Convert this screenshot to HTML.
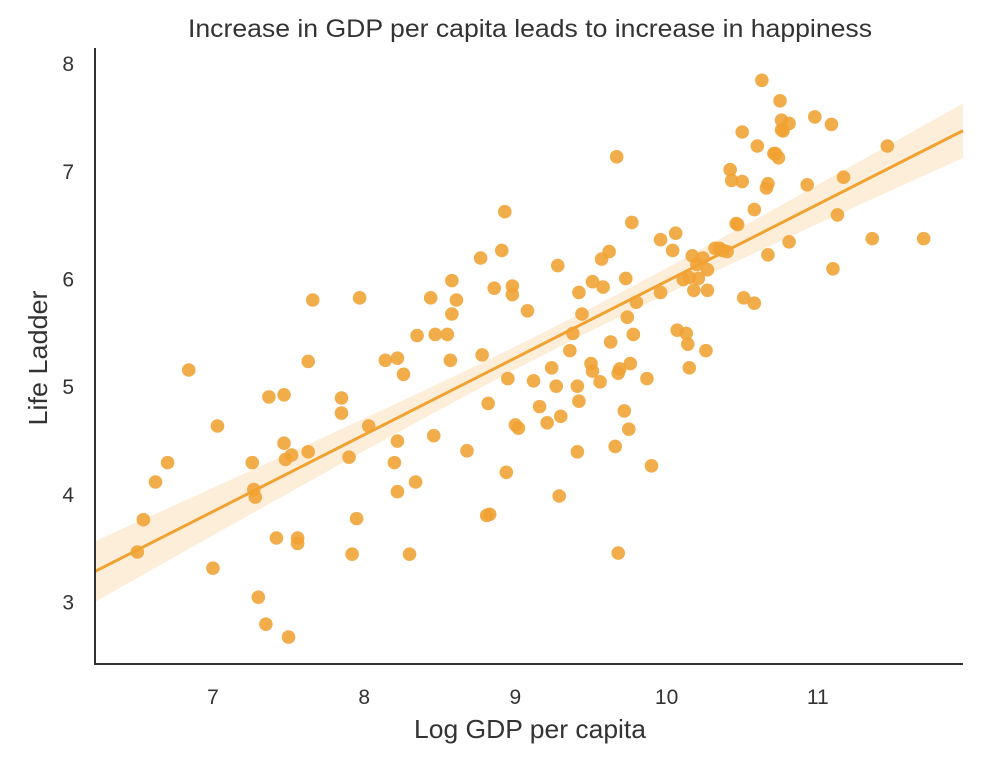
<!DOCTYPE html>
<html><head><meta charset="utf-8"><style>
body{margin:0;background:#fff;}
svg{display:block;font-family:"Liberation Sans",sans-serif;}
</style></head><body>
<svg id="chart" width="1008" height="762"></svg>
<script>
const gdp=[6.50,6.54,6.62,6.70,6.84,7.03,7.00,7.26,7.27,7.28,7.30,7.35,7.37,7.42,7.47,7.47,7.48,7.52,7.50,7.56,7.56,7.63,7.63,7.66,7.85,7.85,7.90,7.92,7.95,7.97,8.03,8.14,8.20,8.22,8.22,8.22,8.26,8.30,8.34,8.35,8.44,8.46,8.47,8.55,8.57,8.58,8.58,8.61,8.68,8.77,8.78,8.81,8.82,8.83,8.86,8.91,8.93,8.94,8.95,8.98,8.98,9.00,9.02,9.08,9.12,9.16,9.21,9.24,9.27,9.28,9.29,9.30,9.36,9.38,9.41,9.41,9.42,9.42,9.44,9.50,9.51,9.51,9.56,9.57,9.58,9.62,9.63,9.66,9.67,9.68,9.68,9.69,9.72,9.73,9.74,9.75,9.76,9.77,9.78,9.80,9.87,9.90,9.96,9.96,10.04,10.06,10.07,10.11,10.13,10.14,10.15,10.15,10.17,10.18,10.20,10.21,10.24,10.26,10.27,10.27,10.32,10.35,10.37,10.40,10.42,10.43,10.46,10.47,10.50,10.50,10.51,10.58,10.58,10.60,10.63,10.66,10.67,10.67,10.71,10.72,10.74,10.75,10.76,10.76,10.77,10.81,10.81,10.93,10.98,11.09,11.10,11.13,11.17,11.36,11.46,11.70];
const ladder=[3.47,3.77,4.12,4.30,5.16,4.64,3.32,4.30,4.05,3.98,3.05,2.80,4.91,3.60,4.93,4.48,4.33,4.37,2.68,3.60,3.55,4.40,5.24,5.81,4.90,4.76,4.35,3.45,3.78,5.83,4.64,5.25,4.30,5.27,4.03,4.50,5.12,3.45,4.12,5.48,5.83,4.55,5.49,5.49,5.25,5.99,5.68,5.81,4.41,6.20,5.30,3.81,4.85,3.82,5.92,6.27,6.63,4.21,5.08,5.86,5.94,4.65,4.62,5.71,5.06,4.82,4.67,5.18,5.01,6.13,3.99,4.73,5.34,5.50,4.40,5.01,4.87,5.88,5.68,5.22,5.15,5.98,5.05,6.19,5.93,6.26,5.42,4.45,7.14,3.46,5.13,5.17,4.78,6.01,5.65,4.61,5.22,6.53,5.49,5.79,5.08,4.27,6.37,5.88,6.27,6.43,5.53,6.00,5.50,5.40,5.18,6.02,6.22,5.90,6.14,6.01,6.20,5.34,5.90,6.09,6.29,6.29,6.27,6.26,7.02,6.92,6.52,6.51,7.37,6.91,5.83,5.78,6.65,7.24,7.85,6.85,6.23,6.89,7.17,7.17,7.13,7.66,7.48,7.39,7.38,7.45,6.35,6.88,7.51,7.44,6.10,6.60,6.95,6.38,7.24,6.38];
const xTicks=[7,8,9,10,11];
const yTicks=[3,4,5,6,7,8];

const NS="http://www.w3.org/2000/svg";
const svg=document.getElementById('chart');
const L=95,R=963,T=48,B=664;
const xMin=6.22,xMax=11.96,yMin=2.43,yMax=8.15;
const X=v=>L+(v-xMin)/(xMax-xMin)*(R-L);
const Y=v=>B-(v-yMin)/(yMax-yMin)*(B-T);
function mk(t,a){const e=document.createElementNS(NS,t);for(const k in a)e.setAttribute(k,a[k]);svg.appendChild(e);return e;}

const n=gdp.length;
const mx=gdp.reduce((a,b)=>a+b)/n, my=ladder.reduce((a,b)=>a+b)/n;
let sxx=0,sxy=0;for(let i=0;i<n;i++){sxx+=(gdp[i]-mx)**2;sxy+=(gdp[i]-mx)*(ladder[i]-my);}
const slope=sxy/sxx, icpt=my-slope*mx;
let sse=0;for(let i=0;i<n;i++){sse+=(ladder[i]-icpt-slope*gdp[i])**2;}
const s=Math.sqrt(sse/(n-2));
const se=x=>1.8*s*Math.sqrt(1/n+(x-mx)**2/sxx);
let up=[],lo=[];
for(let k=0;k<=60;k++){const x=xMin+(xMax-xMin)*k/60;const f=icpt+slope*x;up.push(X(x)+','+Y(f+se(x)));lo.unshift(X(x)+','+Y(f-se(x)));}
const band=mk('polygon',{points:up.concat(lo).join(' '),fill:'#f5a331','fill-opacity':'0.18'});



for(let i=0;i<n;i++){
  const c=mk('circle',{cx:X(gdp[i]),cy:Y(ladder[i]),r:6.8,fill:'#f0a232','fill-opacity':'0.88'});
  
  
}
const ln=mk('line',{x1:X(xMin),y1:Y(icpt+slope*xMin),x2:X(xMax),y2:Y(icpt+slope*xMax),stroke:'#f0a232','stroke-width':3});



const ax=mk('path',{d:`M${L},${T}V${B}H${R}`,stroke:'#333',fill:'none','stroke-width':2});


xTicks.forEach(t=>{const e=mk('text',{x:X(t),y:B+40,'text-anchor':'middle','font-size':21,fill:'#333'});e.textContent=t;
  
  });
yTicks.forEach(t=>{const e=mk('text',{x:L-21,y:Y(t)+7,'text-anchor':'end','font-size':21,fill:'#333'});e.textContent=t;
  
  });
let e=mk('text',{x:530,y:37,'text-anchor':'middle','font-size':25,fill:'#333',textLength:684,lengthAdjust:'spacingAndGlyphs'});e.textContent='Increase in GDP per capita leads to increase in happiness';


e=mk('text',{x:530,y:738,'text-anchor':'middle','font-size':26,fill:'#333',textLength:232,lengthAdjust:'spacingAndGlyphs'});e.textContent='Log GDP per capita';


e=mk('text',{x:47,y:358,'text-anchor':'middle','font-size':26,fill:'#333',textLength:135,lengthAdjust:'spacingAndGlyphs',transform:'rotate(-90 47 358)'});e.textContent='Life Ladder';


</script>
</body></html>
